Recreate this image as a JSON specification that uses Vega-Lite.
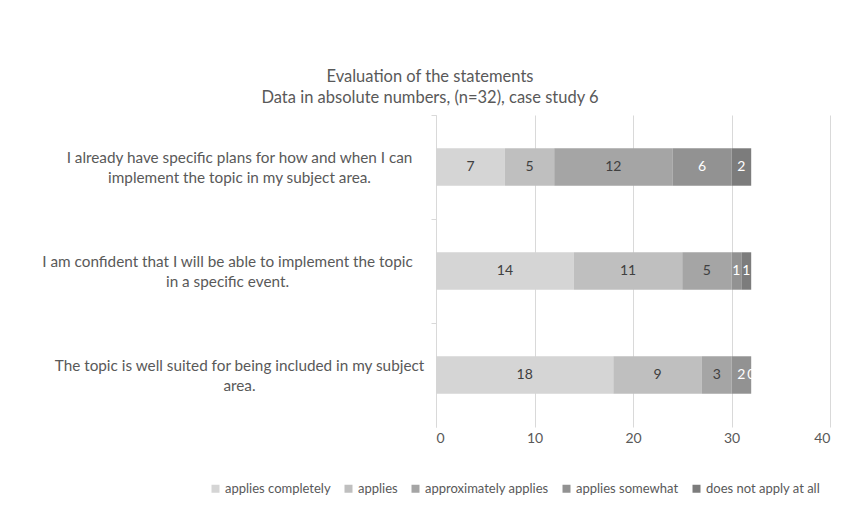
{
  "$schema": "https://vega.github.io/schema/vega-lite/v6.json",
  "width": 394,
  "height": 312,
  "autosize": {"type": "none"},
  "padding": {"left": 436, "top": 115, "right": 29, "bottom": 90},
  "background": "white",
  "title": {
    "text": ["Evaluation of the statements", "Data in absolute numbers, (n=32), case study 6"],
    "anchor": "middle",
    "frame": "group",
    "dx": -203,
    "offset": 8,
    "fontSize": 16.5,
    "font": "Lato",
    "fontWeight": "normal",
    "color": "#595959",
    "lineHeight": 21
  },
  "data": {
    "values": [
      {"statement": "I already have specific plans for how and when I can implement the topic in my subject area.", "rating": "applies completely", "order": 1, "count": 7},
      {"statement": "I already have specific plans for how and when I can implement the topic in my subject area.", "rating": "applies", "order": 2, "count": 5},
      {"statement": "I already have specific plans for how and when I can implement the topic in my subject area.", "rating": "approximately applies", "order": 3, "count": 12},
      {"statement": "I already have specific plans for how and when I can implement the topic in my subject area.", "rating": "applies somewhat", "order": 4, "count": 6},
      {"statement": "I already have specific plans for how and when I can implement the topic in my subject area.", "rating": "does not apply at all", "order": 5, "count": 2},
      {"statement": "I am confident that I will be able to implement the topic in a specific event.", "rating": "applies completely", "order": 1, "count": 14},
      {"statement": "I am confident that I will be able to implement the topic in a specific event.", "rating": "applies", "order": 2, "count": 11},
      {"statement": "I am confident that I will be able to implement the topic in a specific event.", "rating": "approximately applies", "order": 3, "count": 5},
      {"statement": "I am confident that I will be able to implement the topic in a specific event.", "rating": "applies somewhat", "order": 4, "count": 1},
      {"statement": "I am confident that I will be able to implement the topic in a specific event.", "rating": "does not apply at all", "order": 5, "count": 1},
      {"statement": "The topic is well suited for being included in my subject area.", "rating": "applies completely", "order": 1, "count": 18},
      {"statement": "The topic is well suited for being included in my subject area.", "rating": "applies", "order": 2, "count": 9},
      {"statement": "The topic is well suited for being included in my subject area.", "rating": "approximately applies", "order": 3, "count": 3},
      {"statement": "The topic is well suited for being included in my subject area.", "rating": "applies somewhat", "order": 4, "count": 2},
      {"statement": "The topic is well suited for being included in my subject area.", "rating": "does not apply at all", "order": 5, "count": 0}
    ]
  },
  "transform": [
    {"stack": "count", "groupby": ["statement"], "sort": [{"field": "order"}], "as": ["x0", "x1"]},
    {"calculate": "(datum.x0 + datum.x1) / 2", "as": "xmid"}
  ],
  "encoding": {
    "y": {
      "field": "statement",
      "type": "nominal",
      "sort": null,
      "title": null,
      "scale": {"paddingInner": 0.64, "paddingOuter": 0.32},
      "axis": {
        "tickSize": 5,
        "tickOffset": -52,
        "tickColor": "#d9d9d9",
        "domainColor": "#d9d9d9",
        "grid": false,
        "labelAlign": "center",
        "labelBaseline": "middle",
        "labelLimit": 0,
        "labelFont": "Lato",
        "labelFontSize": 15.3,
        "labelColor": "#595959",
        "labelLineHeight": 20,
        "labelOffset": 42,
        "labelPadding": {"condition": {"test": "indexof(datum.value, 'I am') == 0", "value": 204}, "value": 192},
        "labelExpr": "indexof(datum.value, 'I already') == 0 ? ['I already have specific plans for how and when I can', 'implement the topic in my subject area.'] : indexof(datum.value, 'I am') == 0 ? ['I am confident that I will be able to implement the topic', 'in a specific event.'] : ['The topic is well suited for being included in my subject', 'area.']"
      }
    }
  },
  "layer": [
    {
      "mark": {"type": "bar"},
      "encoding": {
        "x": {
          "field": "x0",
          "type": "quantitative",
          "scale": {"domain": [0, 40]},
          "title": null,
          "axis": {
            "values": [0, 10, 20, 30, 40],
            "grid": true,
            "gridColor": "#d9d9d9",
            "domain": false,
            "ticks": false,
            "labelFont": "Lato",
            "labelFontSize": 14,
            "labelColor": "#595959",
            "labelPadding": 4
          }
        },
        "x2": {"field": "x1"},
        "color": {
          "field": "rating",
          "type": "nominal",
          "sort": ["applies completely", "applies", "approximately applies", "applies somewhat", "does not apply at all"],
          "scale": {
            "domain": ["applies completely", "applies", "approximately applies", "applies somewhat", "does not apply at all"],
            "range": ["#d5d5d5", "#bfbfbf", "#a5a5a5", "#929292", "#7c7c7c"]
          },
          "legend": {
            "title": null,
            "orient": "none",
            "direction": "horizontal",
            "legendX": -227,
            "legendY": 367,
            "symbolType": "square",
            "symbolSize": 64,
            "symbolStrokeWidth": 0,
            "labelFont": "Lato",
            "labelFontSize": 13,
            "labelColor": "#595959",
            "labelOffset": 3,
            "columnPadding": 11,
            "labelLimit": 0
          }
        }
      }
    },
    {
      "mark": {"type": "text", "font": "Lato", "fontSize": 14, "baseline": "middle", "align": "center"},
      "encoding": {
        "x": {"field": "xmid", "type": "quantitative"},
        "text": {"field": "count", "type": "quantitative"},
        "color": {
          "condition": {"test": "datum.order >= 4", "value": "#ffffff"},
          "value": "#404040"
        }
      }
    }
  ],
  "config": {
    "view": {"stroke": null},
    "font": "Lato"
  }
}
